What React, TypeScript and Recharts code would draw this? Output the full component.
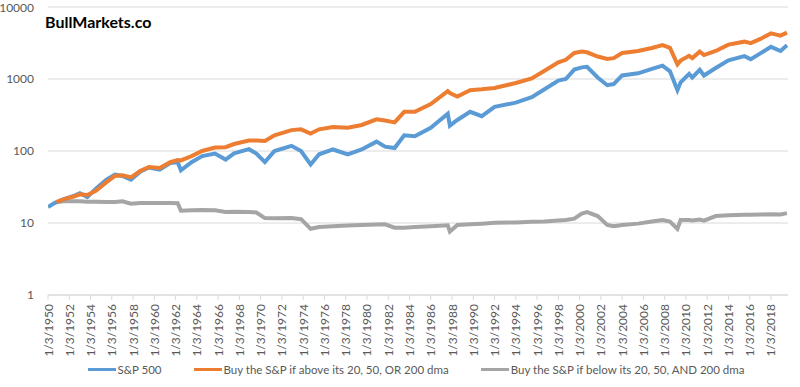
import { LineChart, Line, XAxis, YAxis, CartesianGrid, Legend } from "recharts";

// decimal year of each reading
const years = [
  1950.0, 1950.5, 1950.8, 1951.5, 1952.5, 1953.0, 1953.7, 1954.5, 1955.5, 1956.3,
  1957.0, 1957.8, 1958.7, 1959.5, 1960.5, 1961.5, 1962.2, 1962.5, 1963.5, 1964.5,
  1965.7, 1966.7, 1967.5, 1968.9, 1969.6, 1970.4, 1971.3, 1972.9, 1973.8, 1974.7,
  1975.5, 1976.8, 1978.2, 1979.5, 1980.9, 1981.7, 1982.6, 1983.5, 1984.5, 1986.0,
  1987.6, 1987.8, 1988.5, 1989.7, 1990.8, 1992.0, 1994.0, 1995.5, 1996.7, 1998.0,
  1998.7, 1999.5, 2000.2, 2000.7, 2001.7, 2002.6, 2003.2, 2004.0, 2005.5, 2006.8,
  2007.8, 2008.5, 2009.2, 2009.5, 2010.3, 2010.6, 2011.3, 2011.7, 2012.8, 2014.0,
  2015.5, 2016.1, 2017.0, 2018.0, 2018.9, 2019.5,
];

const sp500 = [
  16.7, 18.5, 19.5, 21.5, 24, 26, 23, 30, 40, 47,
  45, 40, 52, 59, 55, 68, 70, 54, 70, 85,
  92, 76, 93, 106, 92, 70, 100, 118, 100, 65,
  90, 105, 90, 105, 135, 115, 110, 165, 160, 210,
  330, 225, 270, 350, 305, 410, 470, 560, 720, 950,
  1000, 1350, 1450, 1480, 1050, 820, 850, 1120, 1200, 1380,
  1530, 1280, 700, 900, 1180, 1050, 1340, 1120, 1420, 1820,
  2080, 1880, 2270, 2800, 2450, 2950,
];

const aboveAny = [
  null, null, 19.5, 21.5, 23.5, 25, 24.5, 28, 37, 45,
  46, 43, 53, 60, 58, 70, 75, 74, 85, 100,
  112, 113, 125, 140, 140, 138, 165, 195, 200, 175,
  200, 215, 210, 230, 275, 265, 250, 350, 350, 450,
  680, 640, 570, 700, 720, 750, 880, 1020, 1300, 1700,
  1850, 2300, 2400, 2350, 2050, 1900, 1950, 2300, 2450, 2700,
  2950, 2700, 1600, 1800, 2100, 1950, 2400, 2150, 2450, 3000,
  3300, 3150, 3600, 4300, 4000, 4400,
];

const belowAll = [
  null, null, 19.5, 20, 20, 20, 19.8, 19.8, 19.6, 19.6,
  20, 18.5, 19, 19, 19, 19, 18.8, 14.8, 15, 15.2,
  15, 14.2, 14.3, 14.2, 14, 11.7, 11.6, 11.7, 11.3, 8.3,
  8.8, 9.0, 9.2, 9.4, 9.5, 9.6, 8.6, 8.6, 8.8, 9,
  9.3, 7.6, 9.4, 9.6, 9.8, 10.1, 10.2, 10.4, 10.5, 10.8,
  11, 11.5, 13.5, 14.2, 12.5, 9.4, 9.0, 9.4, 9.8, 10.5,
  11, 10.5, 8.3, 11, 11, 10.8, 11.2, 10.8, 12.5, 12.8,
  13, 13, 13.1, 13.2, 13.1, 13.7,
];

const xTicks = [
  1950, 1952, 1954, 1956, 1958, 1960, 1962, 1964, 1966, 1968, 1970, 1972,
  1974, 1976, 1978, 1980, 1982, 1984, 1986, 1988, 1990, 1992, 1994, 1996,
  1998, 2000, 2002, 2004, 2006, 2008, 2010, 2012, 2014, 2016, 2018,
];
const yTicks = [1, 10, 100, 1000, 10000];

const seriesNames = [
  "S&P 500",
  "Buy the S&P if above its 20, 50, OR 200 dma",
  "Buy the S&P if below its 20, 50, AND 200 dma",
];
const colors = ["#5b9bd5", "#ed7d31", "#a5a5a5"];

const data = years.map((y, i) => ({
  year: y,
  sp: sp500[i],
  above: aboveAny[i],
  below: belowAll[i],
}));

const FONT = "Lato, 'Liberation Sans', sans-serif";

const DateTick = ({ x, y, payload }: any) => (
  <text
    x={x}
    y={y + 2}
    transform={`rotate(-90, ${x}, ${y + 2})`}
    textAnchor="end"
    dominantBaseline="central"
    fill="#595959"
    fontSize={12}
    fontFamily={FONT}
  >
    {`1/3/${payload.value}`}
  </text>
);

const LegendContent = () => (
  <div style={{ display: "flex", justifyContent: "center", fontFamily: FONT, fontSize: 11.5, color: "#595959", paddingLeft: 36, height: 20, alignItems: "center" }}>
    {seriesNames.map((n, i) => (
      <div key={n} style={{ display: "flex", alignItems: "center", marginRight: i < 2 ? 32 : 0 }}>
        <span style={{ display: "inline-block", width: 28, height: 3, background: colors[i], marginRight: 2 }} />
        <span>{n}</span>
      </div>
    ))}
  </div>
);

export default function App() {
  return (
    <div style={{ position: "absolute", left: 0, top: 0, width: 800, height: 387, background: "#fff" }}>
      <LineChart width={800} height={387} data={data} margin={{ top: 7, right: 12, left: 8, bottom: 8 }}>
        <CartesianGrid vertical={false} stroke="#d9d9d9" />
        <XAxis
          dataKey="year"
          type="number"
          domain={[1950, 2019.6]}
          ticks={xTicks}
          interval={0}
          tick={<DateTick />}
          tickSize={5}
          axisLine={{ stroke: "#d9d9d9" }}
          tickLine={{ stroke: "#d9d9d9" }}
          height={64}
          allowDataOverflow
        />
        <YAxis
          scale="log"
          domain={[1, 10000]}
          ticks={yTicks}
          allowDataOverflow
          axisLine={false}
          tickLine={false}
          tickMargin={8}
          width={40}
          tick={{ fill: "#595959", fontSize: 12, fontFamily: FONT }}
        />
        <Legend verticalAlign="bottom" height={20} content={<LegendContent />} />
        <Line type="linear" dataKey="below" name={seriesNames[2]} stroke={colors[2]} strokeWidth={4} dot={false} isAnimationActive={false} />
        <Line type="linear" dataKey="sp" name={seriesNames[0]} stroke={colors[0]} strokeWidth={4} dot={false} isAnimationActive={false} />
        <Line type="linear" dataKey="above" name={seriesNames[1]} stroke={colors[1]} strokeWidth={4} dot={false} isAnimationActive={false} />
      </LineChart>
      <div style={{ position: "absolute", left: 45, top: 12, fontFamily: FONT, fontWeight: 700, fontSize: 16, color: "#000" }}>
        BullMarkets.co
      </div>
    </div>
  );
}
